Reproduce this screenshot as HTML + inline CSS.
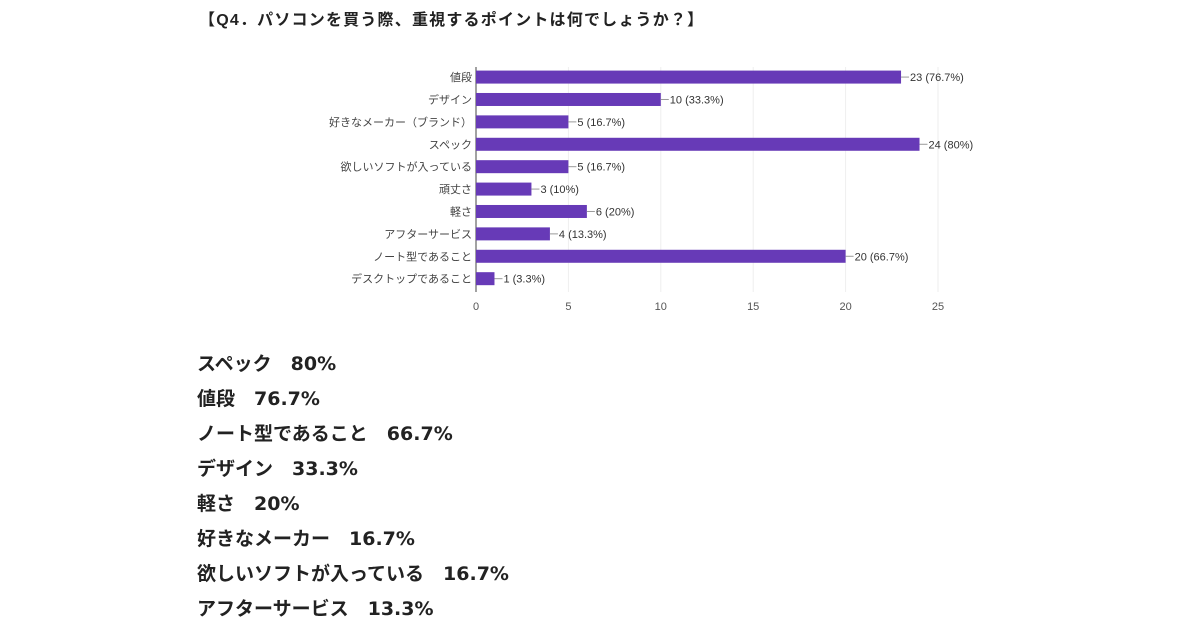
<!DOCTYPE html>
<html><head><meta charset="utf-8"><style>
body{margin:0;width:1200px;height:630px;background:#fff;overflow:hidden;font-family:"Liberation Sans","Noto Sans CJK JP",sans-serif;}
#title{position:absolute;left:199px;top:6px;font-size:16px;font-weight:bold;color:#222;letter-spacing:1.2px}
.r{position:absolute;left:197px;font-size:19px;font-weight:bold;color:#222;white-space:pre;font-family:"DejaVu Sans","Noto Sans CJK JP",sans-serif}
svg{position:absolute;left:0;top:0}
</style></head><body>
<div id="title">【Q4．パソコンを買う際、重視するポイントは何でしょうか？】</div>
<svg id="chart" width="1200" height="330"></svg>
<div class="r" style="top:349px">スペック　80%</div>
<div class="r" style="top:384px">値段　76.7%</div>
<div class="r" style="top:419px">ノート型であること　66.7%</div>
<div class="r" style="top:454px">デザイン　33.3%</div>
<div class="r" style="top:489px">軽さ　20%</div>
<div class="r" style="top:524px">好きなメーカー　16.7%</div>
<div class="r" style="top:559px">欲しいソフトが入っている　16.7%</div>
<div class="r" style="top:594px">アフターサービス　13.3%</div>
<script>
const categories=["値段","デザイン","好きなメーカー（ブランド）","スペック","欲しいソフトが入っている","頑丈さ","軽さ","アフターサービス","ノート型であること","デスクトップであること"];
const values=[23,10,5,24,5,3,6,4,20,1];
const pctLabels=["76.7%","33.3%","16.7%","80%","16.7%","10%","20%","13.3%","66.7%","3.3%"];
const ticks=[0,5,10,15,20,25];
const svg=document.getElementById('chart');
const NS='http://www.w3.org/2000/svg';
const x0=476,x1=938,xmax=25,yTop=67,rowH=22.4,barH=13;
const xs=v=>x0+(x1-x0)*v/xmax;
const yc=i=>yTop+rowH*(i+0.45);
function mk(t,a){const e=document.createElementNS(NS,t);for(const k in a)e.setAttribute(k,a[k]);svg.appendChild(e);return e;}
ticks.forEach(t=>{
 const g=mk('line',{x1:xs(t),x2:xs(t),y1:yTop,y2:292,stroke:t===0?'#444':'#eee','stroke-width':1});
 
 
 const l=mk('text',{x:xs(t),y:310,'text-anchor':'middle','font-size':11,fill:'#555'});l.textContent=t;
 
 
});
categories.forEach((c,i)=>{
 const y=yc(i);
 const lab=mk('text',{x:x0-4,y:y+4,'text-anchor':'end','font-size':11,fill:'#444'});lab.textContent=c;
 
 
 const b=mk('rect',{x:x0,y:y-barH/2,width:xs(values[i])-x0,height:barH,fill:'#673ab7'});
 
 
 mk('line',{x1:xs(values[i]),x2:xs(values[i])+8,y1:y,y2:y,stroke:'#999'});
 const v=mk('text',{x:xs(values[i])+9,y:y+4,'font-size':11,fill:'#333'});v.textContent=values[i]+' ('+pctLabels[i]+')';
 
 
});
</script>
</body></html>
